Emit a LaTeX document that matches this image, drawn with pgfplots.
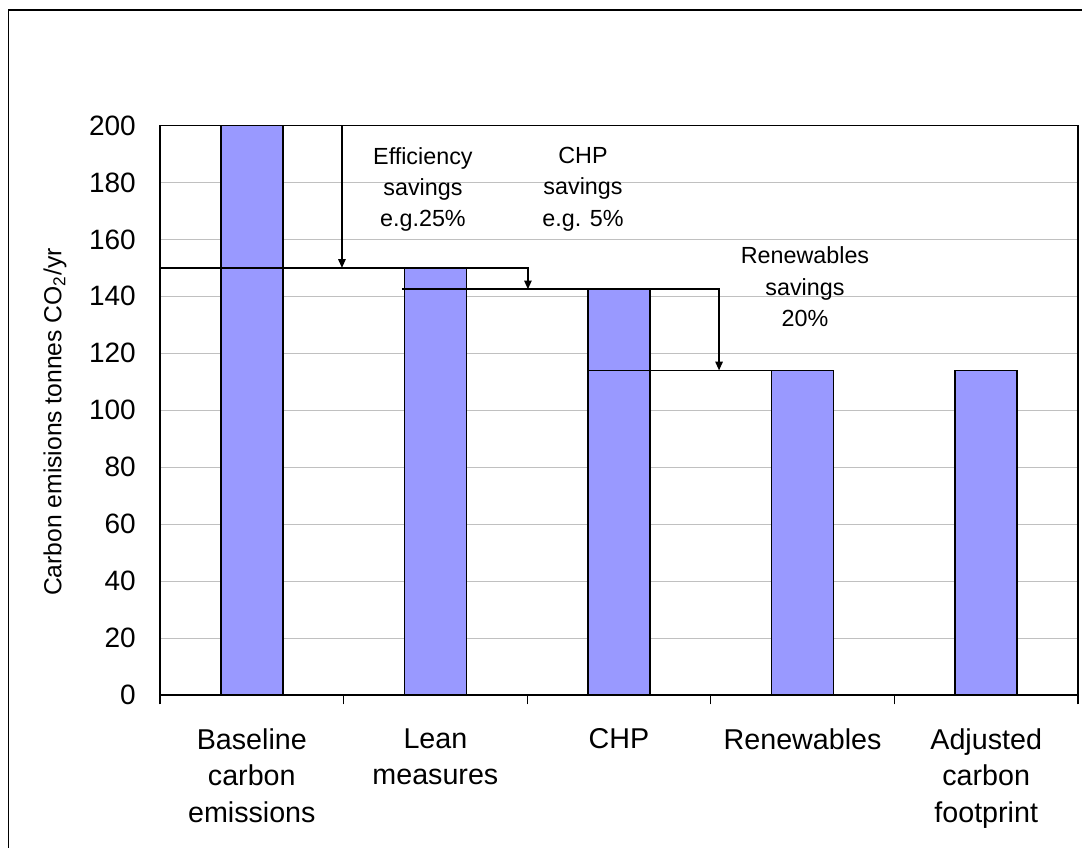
\documentclass[border=0pt]{standalone}
\usepackage{fontspec}
\setmainfont{Liberation Sans}
\usepackage{pgfplots}
\pgfplotsset{compat=1.18}
\usetikzlibrary{arrows.meta}
\definecolor{barblue}{RGB}{153,153,255}
\definecolor{gridgray}{RGB}{192,192,192}

\begin{document}
\begin{tikzpicture}
\useasboundingbox (0,0) rectangle (811.5pt,636pt);
% outer chart frame (right and bottom edges fall outside the picture)
\draw[line width=0.8pt] (6.25pt,-5pt) -- (6.25pt,628.5pt) -- (830pt,628.5pt);

\begin{axis}[
    at={(120pt,114.75pt)}, anchor=south west,
    scale only axis,
    width=688.5pt, height=427.1pt,
    xmin=-0.5, xmax=4.5,
    ymin=0, ymax=200,
    ytick={0,20,...,200},
    xtick={0,1,2,3,4},
    xticklabels={Baseline\\carbon\\emissions, Lean\\measures, CHP, Renewables, Adjusted\\carbon\\footprint},
    minor xtick={-0.5,0.5,1.5,2.5,3.5,4.5},
    tick align=outside,
    xtick pos=bottom, ytick pos=left,
    major tick length=0pt,
    minor tick length=7pt,
    minor tick style={black, line width=0.8pt},
    ymajorgrids=true,
    grid style={gridgray, line width=0.8pt},
    axis line style={black, line width=1.1pt},
    /pgf/number format/assume math mode=true,
    y tick label style={font=\fontsize{21}{25}\selectfont, anchor=east, inner sep=0pt, xshift=-18pt},
    x tick label style={font=\fontsize{21.5}{27.4}\selectfont, align=center, anchor=north, inner sep=0pt, yshift=-25pt},
    ylabel={Carbon emisions tonnes CO\textsubscript{2}/yr},
    ylabel style={font=\fontsize{18.5}{22}\selectfont, at={(axis description cs:-0.1144,0.479)}, anchor=center},
    clip=false,
]
\addplot[ybar, bar width=46.5pt, fill=barblue, draw=black, line width=1.3pt]
    coordinates {(0,200) (1,150) (2,142.5) (3,114) (4,114)};

% savings steps
\draw[line width=1.2pt, -{Triangle[length=6.5pt,width=5.5pt]}] (axis cs:0.491,200) -- (axis cs:0.491,150);
\draw[line width=1.2pt, -{Triangle[length=6.5pt,width=5.5pt]}] (axis cs:-0.5,150) -- (axis cs:1.504,150) -- (axis cs:1.504,142.5);
\draw[line width=1.2pt, -{Triangle[length=6.5pt,width=5.5pt]}] (axis cs:0.818,142.5) -- (axis cs:2.545,142.5) -- (axis cs:2.545,114);
\draw[line width=1.2pt] (axis cs:1.826,114) -- (axis cs:3.165,114);

\node[anchor=north, align=center, inner sep=0pt, font=\fontsize{17.5}{23.6}\selectfont]
    at (axis cs:0.932,192.5) {Efficiency\\savings\\e.g.25\%};
\node[anchor=north, align=center, inner sep=0pt, font=\fontsize{17.5}{23.6}\selectfont]
    at (axis cs:1.804,192.5) {CHP\\savings\\e.g. 5\%};
\node[anchor=north, align=center, inner sep=0pt, font=\fontsize{17.5}{23.6}\selectfont]
    at (axis cs:3.013,157.5) {Renewables\\savings\\20\%};
\end{axis}
\end{tikzpicture}
\end{document}
